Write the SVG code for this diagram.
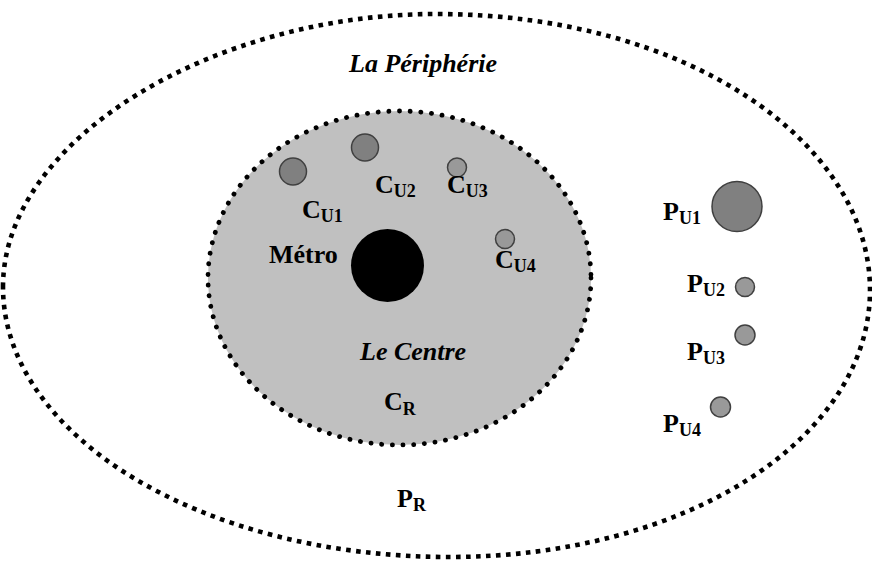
<svg xmlns="http://www.w3.org/2000/svg" width="872" height="562" viewBox="0 0 872 562">
  <style>
    .lbl { font-family: "Liberation Serif", "Times New Roman", serif; font-weight: bold; font-size: 26px; fill: #000; }
    .it { font-style: italic; }
    .sub { font-size: 18px; }
    .outer { fill: none; stroke: #000; stroke-width: 4.6; stroke-dasharray: 4.6 5.4; }
    .inner { fill: #c0c0c0; stroke: #000; stroke-width: 4.8; stroke-dasharray: 0.1 10.6; stroke-linecap: round; }
    .big { fill: #808080; stroke: #404040; stroke-width: 1.5; }
    .small { fill: #999999; stroke: #404040; stroke-width: 1.5; }
  </style>
  <rect width="872" height="562" fill="#fff"/>
  <g id="peripherie">
    <path class="outer" d="M3,287 C3,138 216,14 436,14 C688,14 870,143 870,290 C870,440 684,557 450,557 C200,557 3,435 3,287 Z"/>
    <text class="lbl it" x="349" y="72">La Périphérie</text>
  </g>
  <g id="centre">
    <ellipse class="inner" cx="399.5" cy="278" rx="191.5" ry="167"/>
    <text class="lbl it" x="360" y="360">Le Centre</text>
  </g>
  <g id="metro">
    <circle cx="387.5" cy="265.5" r="36.5" fill="#000"/>
    <text class="lbl" x="269" y="263">Métro</text>
  </g>
  <g id="cu1">
    <circle class="big" cx="293" cy="171.5" r="13.5"/>
    <text class="lbl" x="302" y="218">C<tspan class="sub" dy="4">U1</tspan></text>
  </g>
  <g id="cu2">
    <circle class="big" cx="365" cy="147.5" r="13.5"/>
    <text class="lbl" x="375" y="193">C<tspan class="sub" dy="4">U2</tspan></text>
  </g>
  <g id="cu3">
    <circle class="small" cx="457" cy="167.5" r="9.5"/>
    <text class="lbl" x="447" y="193">C<tspan class="sub" dy="4">U3</tspan></text>
  </g>
  <g id="cu4">
    <circle class="small" cx="505" cy="239" r="9.5"/>
    <text class="lbl" x="495" y="268">C<tspan class="sub" dy="4">U4</tspan></text>
  </g>
  <g id="cr">
    <text class="lbl" x="384" y="410">C<tspan class="sub" dy="5">R</tspan></text>
  </g>
  <g id="pu1">
    <circle class="big" cx="737" cy="206.5" r="25"/>
    <text class="lbl" x="663" y="220">P<tspan class="sub" dy="4">U1</tspan></text>
  </g>
  <g id="pu2">
    <circle class="small" cx="745" cy="287" r="9.5"/>
    <text class="lbl" x="687" y="292">P<tspan class="sub" dy="4">U2</tspan></text>
  </g>
  <g id="pu3">
    <circle class="small" cx="745" cy="335" r="10"/>
    <text class="lbl" x="687" y="360">P<tspan class="sub" dy="4">U3</tspan></text>
  </g>
  <g id="pu4">
    <circle class="small" cx="720.5" cy="407" r="10"/>
    <text class="lbl" x="663" y="432">P<tspan class="sub" dy="4">U4</tspan></text>
  </g>
  <g id="pr">
    <text class="lbl" x="397" y="507">P<tspan class="sub" dy="4">R</tspan></text>
  </g>
  <g id="connectors"/>
</svg>
